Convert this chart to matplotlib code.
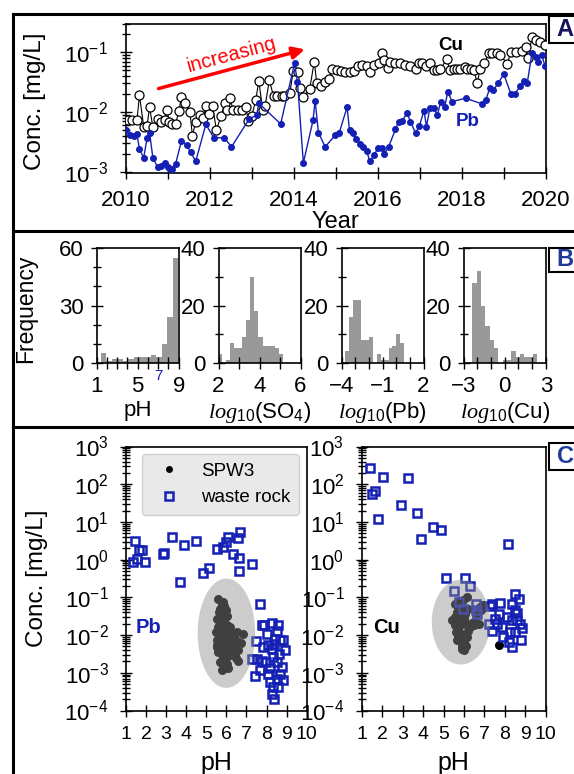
import numpy as np
import matplotlib
matplotlib.use('Agg')
import matplotlib.pyplot as plt
from matplotlib.patches import Rectangle
from matplotlib.lines import Line2D
import matplotlib.ticker as mticker

plt.rcParams['font.family'] = ['Liberation Sans', 'DejaVu Sans']
plt.rcParams['mathtext.fontset'] = 'custom'
plt.rcParams['mathtext.rm'] = 'Liberation Sans'
plt.rcParams['mathtext.it'] = 'Liberation Serif:italic'
plt.rcParams['mathtext.bf'] = 'Liberation Sans:bold'
plt.rcParams['axes.unicode_minus'] = True

# ---------------- data: panel A (time series) ----------------
cu_year = [2010.06, 2010.16, 2010.27, 2010.33, 2010.43, 2010.51, 2010.57, 2010.65, 2010.77, 2010.85,
           2010.93, 2010.99, 2011.03, 2011.11, 2011.19, 2011.27, 2011.33, 2011.41, 2011.53, 2011.59,
           2011.67, 2011.77, 2011.85, 2011.91, 2011.99, 2012.07, 2012.16, 2012.27, 2012.36, 2012.42,
           2012.48, 2012.56, 2012.68, 2012.76, 2012.86, 2012.92, 2013.00, 2013.10, 2013.17, 2013.26,
           2013.32, 2013.42, 2013.52, 2013.61, 2013.72, 2013.78, 2013.91, 2013.99, 2014.11, 2014.15,
           2014.23, 2014.38, 2014.49, 2014.55, 2014.65, 2014.75, 2014.85, 2014.91, 2015.03, 2015.12,
           2015.23, 2015.33, 2015.43, 2015.52, 2015.62, 2015.74, 2015.82, 2015.90, 2016.02, 2016.09,
           2016.14, 2016.24, 2016.30, 2016.42, 2016.54, 2016.66, 2016.78, 2016.90, 2016.98, 2017.06,
           2017.16, 2017.24, 2017.34, 2017.42, 2017.49, 2017.64, 2017.72, 2017.81, 2017.89, 2017.97,
           2018.07, 2018.13, 2018.23, 2018.29, 2018.37, 2018.43, 2018.53, 2018.65, 2018.73, 2018.83,
           2018.92, 2019.08, 2019.17, 2019.30, 2019.43, 2019.52, 2019.58, 2019.67, 2019.76, 2019.87, 2019.98]
cu_conc = [0.0073, 0.0073, 0.0073, 0.019, 0.0057, 0.0058, 0.012, 0.0055, 0.0075, 0.0069,
           0.0073, 0.011, 0.0069, 0.0063, 0.0063, 0.0105, 0.018, 0.014, 0.010, 0.0040,
           0.0069, 0.0089, 0.0078, 0.0126, 0.0092, 0.0126, 0.0050, 0.0084, 0.0143, 0.011,
           0.017, 0.011, 0.011, 0.011, 0.0123, 0.0070, 0.0084, 0.016, 0.0335, 0.011,
           0.0126, 0.034, 0.0185, 0.0185, 0.0185, 0.0185, 0.021, 0.049, 0.047, 0.025,
           0.018, 0.024, 0.070, 0.030, 0.027, 0.032, 0.035, 0.052, 0.050, 0.049,
           0.047, 0.047, 0.049, 0.059, 0.061, 0.059, 0.046, 0.061, 0.065, 0.096,
           0.074, 0.054, 0.070, 0.065, 0.065, 0.061, 0.059, 0.052, 0.067, 0.065,
           0.059, 0.065, 0.050, 0.050, 0.052, 0.076, 0.050, 0.052, 0.052, 0.052,
           0.057, 0.052, 0.052, 0.050, 0.030, 0.052, 0.065, 0.096, 0.096, 0.096,
           0.090, 0.064, 0.10, 0.10, 0.107, 0.124, 0.079, 0.178, 0.16, 0.15, 0.13]
pb_year = [2010.02, 2010.11, 2010.19, 2010.27, 2010.33, 2010.43, 2010.51, 2010.57, 2010.65, 2010.76,
           2010.85, 2010.93, 2011.01, 2011.05, 2011.11, 2011.19, 2011.33, 2011.45, 2011.55, 2011.67,
           2011.91, 2012.10, 2012.35, 2012.52, 2012.94, 2013.12, 2013.17, 2013.69, 2014.02, 2014.09,
           2014.23, 2014.46, 2014.51, 2014.59, 2014.75, 2014.99, 2015.08, 2015.27, 2015.33, 2015.41,
           2015.49, 2015.59, 2015.65, 2015.74, 2015.81, 2015.92, 2016.00, 2016.09, 2016.16, 2016.26,
           2016.42, 2016.50, 2016.58, 2016.70, 2016.78, 2016.90, 2016.99, 2017.10, 2017.16, 2017.24,
           2017.34, 2017.42, 2017.50, 2017.59, 2017.67, 2017.77, 2018.09, 2018.49, 2018.57, 2018.67,
           2018.75, 2018.86, 2019.00, 2019.17, 2019.26, 2019.39, 2019.48, 2019.56, 2019.67, 2019.76,
           2019.81, 2019.90, 2019.98]
pb_conc = [0.0050, 0.0041, 0.0039, 0.0042, 0.0024, 0.0017, 0.0036, 0.0045, 0.0017, 0.0012,
           0.00126, 0.00138, 0.0012, 0.0011, 0.00113, 0.00135, 0.0033, 0.0028, 0.0021, 0.0015,
           0.0062, 0.0037, 0.0037, 0.0026, 0.0076, 0.0089, 0.014, 0.0063, 0.065, 0.032,
           0.0014, 0.0072, 0.0155, 0.0045, 0.0026, 0.0041, 0.0044, 0.012, 0.0049, 0.0044,
           0.0035, 0.0029, 0.0026, 0.0022, 0.0015, 0.0019, 0.0025, 0.0025, 0.0020, 0.0026,
           0.0051, 0.0069, 0.0071, 0.0095, 0.0069, 0.0044, 0.0058, 0.0105, 0.0057, 0.0115,
           0.0115, 0.0089, 0.0149, 0.012, 0.0218, 0.0149, 0.017, 0.0136, 0.016, 0.025,
           0.023, 0.030, 0.043, 0.020, 0.020, 0.027, 0.033, 0.031, 0.096, 0.082,
           0.070, 0.090, 0.060]

# ---------------- data: panel B (histograms) ----------------
ph_bin_start, ph_bin_width = 1.4, 0.54
ph_counts = [5, 1, 2, 2, 1, 2, 3, 3, 3, 4, 3, 10, 24, 55]
so4_bin_start, so4_bin_width = 1.95, 0.2
so4_counts = [3, 0, 1, 7, 5, 5, 9, 15, 30, 18, 9, 6, 6, 6, 5, 3]
pbh_bin_start, pbh_bin_width = -3.75, 0.29
pbh_counts = [4, 16, 22, 22, 8, 8, 9, 0, 3, 1, 1, 5, 6, 10, 7]
cuh_bin_start, cuh_bin_width = -2.38, 0.317
cuh_counts = [28, 32, 20, 13, 8, 5, 0, 1, 1, 4, 2, 3, 2, 2, 3]

# ---------------- data: panel C (pH vs conc) ----------------
wr_pb_ph = [1.45, 1.66, 1.80, 1.37, 1.56, 1.95, 2.83, 2.90, 3.28, 3.69, 3.89, 4.49, 4.85, 5.15, 5.55,
            5.82, 5.98, 6.10, 6.32, 6.60, 6.68, 6.65, 6.65, 7.30, 7.68,
            7.76, 7.88, 8.26, 8.59, 7.48, 8.01, 8.43, 8.84, 8.92, 8.09,
            8.26, 8.64, 7.26, 7.51, 7.76, 7.98, 8.34, 8.51, 8.76, 7.68,
            7.43, 8.09, 8.51, 8.84, 8.18, 8.34, 8.59, 8.38, 8.26, 7.84,
            8.38, 8.67, 8.51, 8.18, 8.67]
wr_pb = [3.2, 1.8, 1.8, 0.87, 1.07, 0.87, 1.45, 1.5, 4.0, 0.26, 2.5, 3.2, 0.43, 0.61, 1.9,
         2.2, 2.9, 4.0, 1.4, 3.8, 5.4, 1.1, 0.49, 0.76, 0.065,
         0.019, 0.019, 0.021, 0.019, 0.0069, 0.011, 0.0079, 0.0072, 0.0039, 0.0056,
         0.0044, 0.0031, 0.0023, 0.0023, 0.0021, 0.0019, 0.0026, 0.0019, 0.0014, 0.00115,
         0.00081, 0.00093, 0.00069, 0.00063, 0.00056, 0.00041, 0.00041, 0.00020, 0.00028, 0.0048,
         0.0059, 0.0072, 0.013, 0.0013, 0.00093]
spw_pb_ph = [5.60, 5.85, 5.77, 5.98, 6.02, 5.68, 5.85, 5.60, 5.93, 5.68,
             6.02, 6.40, 6.81, 5.52, 5.77, 6.10, 6.35, 6.60, 5.60, 5.85,
             6.18, 6.60, 5.68, 5.93, 5.77, 6.10, 6.02, 6.10, 5.52, 6.18,
             5.70, 5.90, 5.75, 5.95, 5.80, 6.25, 6.45, 5.65, 6.00,
             5.55, 5.75, 5.90, 5.50, 5.65, 6.15, 6.30, 6.55, 6.75, 6.55,
             5.55, 6.20, 5.90, 6.05, 5.85, 6.45, 6.50]
spw_pb = [0.092, 0.076, 0.064, 0.045, 0.033, 0.030, 0.022, 0.016, 0.014, 0.011,
          0.0089, 0.011, 0.011, 0.0072, 0.0054, 0.0048, 0.0059, 0.0039, 0.0035, 0.0026,
          0.0029, 0.0021, 0.0019, 0.0014, 0.00115, 0.0013, 0.018, 0.0072, 0.0048, 0.016,
          0.050, 0.028, 0.0085, 0.0035, 0.0018, 0.0065, 0.0075, 0.040, 0.0025,
          0.026, 0.036, 0.060, 0.012, 0.0095, 0.0105, 0.0085, 0.0068, 0.0062, 0.012,
          0.0055, 0.0040, 0.0042, 0.0017, 0.0023, 0.0031, 0.0024]
wr_cu_ph = [1.41, 2.06, 3.28, 1.65, 1.52, 2.92, 3.69, 1.82, 4.47, 4.87,
            3.90, 8.15, 5.11, 6.06, 6.30, 5.53, 5.78, 5.94, 6.58, 6.58,
            6.63, 7.28, 7.39, 7.77, 8.50, 8.67, 8.34, 7.20, 7.36, 7.69,
            7.61, 7.85, 8.10, 8.50, 8.34, 8.75, 8.83, 8.59, 7.93, 8.18,
            8.34, 8.50, 8.78, 8.26, 7.53, 8.59]
wr_cu = [270, 155, 147, 66, 54, 28, 17, 12, 7.4, 6.0,
         3.6, 2.6, 0.32, 0.33, 0.20, 0.15, 0.076, 0.050, 0.068, 0.045,
         0.036, 0.059, 0.068, 0.071, 0.12, 0.092, 0.068, 0.020, 0.013, 0.037,
         0.020, 0.016, 0.030, 0.045, 0.025, 0.020, 0.015, 0.025, 0.0089, 0.0065,
         0.0048, 0.012, 0.0072, 0.012, 0.027, 0.038]
spw_cu_ph = [6.14, 5.57, 5.86, 5.65, 6.06, 5.57, 5.40, 5.81, 6.06, 6.38,
             6.71, 6.95, 6.79, 5.73, 5.89, 6.30, 5.65, 5.98, 5.89, 5.98,
             6.14, 5.57, 7.72, 5.75, 5.95, 6.20, 5.70, 6.10, 6.55,
             5.95, 6.20, 5.75, 6.00, 6.50, 6.85, 6.60, 5.80, 5.60, 5.85, 6.05, 5.90]
spw_cu = [0.10, 0.068, 0.055, 0.041, 0.037, 0.030, 0.025, 0.022, 0.020, 0.021,
          0.020, 0.061, 0.055, 0.015, 0.011, 0.016, 0.0072, 0.0065, 0.0044, 0.0040,
          0.0089, 0.018, 0.0056, 0.080, 0.028, 0.013, 0.0095, 0.0052, 0.024,
          0.085, 0.048, 0.033, 0.026, 0.018, 0.045, 0.035, 0.019, 0.012, 0.0085, 0.0055, 0.0050]
# ellipse (pH centre, log10 centre, pH width, log10 height)
ell_pb = (6.0, -1.95, 2.86, 2.9)
ell_cu = (5.85, -1.655, 2.85, 2.25)

BLUE = '#1420b4'
W, H = 574, 774
fig = plt.figure(figsize=(W / 100, H / 100), dpi=100)


def ax_px(x0, y0, x1, y1):
    return fig.add_axes([x0 / W, 1 - y1 / H, (x1 - x0) / W, (y1 - y0) / H])


def style(ax, fs=15, pad=6):
    ax.tick_params(which='both', direction='inout', labelsize=fs, pad=pad, width=1)
    ax.tick_params(which='major', length=9)
    ax.tick_params(which='minor', length=6)
    for s in ax.spines.values():
        s.set_linewidth(1.2)


# ---------------- Panel A ----------------
axA = ax_px(125.6, 23.8, 545.8, 173)
axA.plot(cu_year, cu_conc, '-o', color='black', lw=0.8, ms=6.5, mfc='white', mec='black', mew=0.9, zorder=3)
axA.plot(pb_year, pb_conc, '-o', color=BLUE, lw=1.0, ms=4, mfc=BLUE, mec=BLUE, zorder=4)
axA.set_yscale('log')
axA.set_xlim(2010, 2020)
axA.set_ylim(9.5e-4, 0.3)
axA.xaxis.set_major_locator(mticker.MultipleLocator(2))
axA.xaxis.set_minor_locator(mticker.MultipleLocator(1))
axA.yaxis.set_major_locator(mticker.LogLocator(base=10, numticks=10))
axA.yaxis.set_minor_locator(mticker.LogLocator(base=10, subs=np.arange(2, 10), numticks=10))
axA.yaxis.set_minor_formatter(mticker.NullFormatter())
style(axA, fs=16, pad=8)
axA.tick_params(axis='x', which='minor', length=9)
axA.set_xlabel('Year', fontsize=17)
axA.xaxis.set_label_coords(0.5, -0.255)
axA.set_ylabel('Conc. [mg/L]', fontsize=17.5)
axA.yaxis.set_label_coords(-0.19, 0.48)
axA.annotate('', xy=(2014.33, 0.115), xytext=(2010.72, 0.024),
             arrowprops=dict(arrowstyle='-|>', color='red', lw=2.5, mutation_scale=18), zorder=6)
axA.text(2012.52, 0.09, 'increasing', color='red', fontsize=14.5, rotation=15,
         rotation_mode='anchor', ha='center', va='center', zorder=6)
axA.text(2017.73, 0.128, 'Cu', color='black', fontsize=13.5, fontweight='bold', ha='center', va='center')
axA.text(2018.13, 0.0069, 'Pb', color=BLUE, fontsize=13.5, fontweight='bold', ha='center', va='center')

# ---------------- Panel B ----------------
hist_specs = [
    (96.7, ph_bin_start, ph_bin_width, ph_counts, (1, 9), [1, 5, 9], (0, 60), [0, 30, 60], 10, 'pH'),
    (218.5, so4_bin_start, so4_bin_width, so4_counts, (2, 6), [2, 4, 6], (0, 40), [0, 20, 40], 10,
     r'$\mathit{log}_{\mathit{10}}$(SO$_4$)'),
    (341.5, pbh_bin_start, pbh_bin_width, pbh_counts, (-4, 2), [-4, -1, 2], (0, 40), [0, 20, 40], 10,
     r'$\mathit{log}_{\mathit{10}}$(Pb)'),
    (463.8, cuh_bin_start, cuh_bin_width, cuh_counts, (-3, 3), [-3, 0, 3], (0, 40), [0, 20, 40], 10,
     r'$\mathit{log}_{\mathit{10}}$(Cu)'),
]
hist_axes = []
for (x0, start, width, counts, xl, xt, yl, yt, ymin, lab) in hist_specs:
    ax = ax_px(x0, 248.3, x0 + 82, 362.7)
    edges = start + width * np.arange(len(counts))
    ax.bar(edges, counts, width=width, align='edge', color='#999999', linewidth=0)
    ax.set_xlim(*xl)
    ax.set_ylim(*yl)
    ax.set_xticks(xt)
    ax.xaxis.set_minor_locator(mticker.MultipleLocator(1))
    ax.set_yticks(yt)
    ax.yaxis.set_minor_locator(mticker.MultipleLocator(ymin))
    style(ax, fs=16, pad=5)
    ax.tick_params(axis='x', which='minor', length=9)
    ax.set_xlabel(lab, fontsize=16)
    ax.xaxis.set_label_coords(0.5, -0.33)
    hist_axes.append(ax)
hist_axes[0].set_ylabel('Frequency', fontsize=16.5)
hist_axes[0].yaxis.set_label_coords(-0.73, 0.47)
hist_axes[0].text(7, -0.12, '7', color=BLUE, fontsize=11, ha='center', va='center',
                  transform=hist_axes[0].get_xaxis_transform())

# ---------------- Panel C ----------------
def scatter_panel(ax, wr_x, wr_y, sp_x, sp_y, ell, label, lcolor):
    h1, = ax.plot(sp_x, sp_y, 'o', color='black', ms=6.5, mew=0, zorder=3, label='SPW3')
    h2, = ax.plot(wr_x, wr_y, 's', mfc='none', mec=BLUE, mew=1.8, ms=6.3, zorder=3, label='waste rock')
    t = np.linspace(0, 2 * np.pi, 200)
    ex = ell[0] + ell[2] / 2 * np.cos(t)
    ey = 10 ** (ell[1] + ell[3] / 2 * np.sin(t))
    ax.fill(ex, ey, color='#8f8f8f', alpha=0.45, lw=0, zorder=4)
    ax.set_yscale('log')
    ax.set_xlim(1, 10)
    ax.set_ylim(1e-4, 1e3)
    ax.set_xticks(range(1, 11))
    ax.yaxis.set_major_locator(mticker.LogLocator(base=10, numticks=20))
    ax.yaxis.set_minor_locator(mticker.LogLocator(base=10, subs=np.arange(2, 10), numticks=20))
    ax.yaxis.set_minor_formatter(mticker.NullFormatter())
    style(ax, fs=16, pad=5)
    ax.tick_params(axis='x', which='major', labelsize=14, pad=6.5)
    ax.tick_params(axis='y', which='major', pad=8)
    ax.set_xlabel('pH', fontsize=18)
    ax.xaxis.set_label_coords(0.5, -0.155)
    ax.text(2.1 if label == 'Pb' else 2.22, 0.016, label, color=lcolor, fontsize=14.5,
            fontweight='bold', ha='center', va='center')
    return h1, h2


axC1 = ax_px(126, 446.5, 306.7, 710.5)
h1, h2 = scatter_panel(axC1, wr_pb_ph, wr_pb, spw_pb_ph, spw_pb, ell_pb, 'Pb', BLUE)
axC1.set_ylabel('Conc. [mg/L]', fontsize=17.5)
axC1.yaxis.set_label_coords(-0.43, 0.5)
leg = axC1.legend([h1, h2], ['SPW3', 'waste rock'], loc='upper right', bbox_to_anchor=(0.955, 0.97),
                  borderaxespad=0, fontsize=13.5, handlelength=2.0, handletextpad=0.7,
                  facecolor='#e9e9e9', edgecolor='#cfcfcf', framealpha=1, fancybox=True,
                  borderpad=0.45, labelspacing=0.5)
leg.set_zorder(10)
leg.legend_handles[0].set_markersize(5)

axC2 = ax_px(361.7, 446.5, 545.8, 710.5)
scatter_panel(axC2, wr_cu_ph, wr_cu, spw_cu_ph, spw_cu, ell_cu, 'Cu', 'black')

# ---------------- frame lines & panel letters ----------------
for (xs, ys) in [((13, 13), (14, 774)), ((13, 574), (14, 14)), ((13, 574), (231, 231)),
                 ((13, 574), (427, 427))]:
    fig.add_artist(Line2D([x / W for x in xs], [1 - y / H for y in ys], transform=fig.transFigure,
                          color='black', lw=2.2, solid_capstyle='projecting'))

for letter, y0, y1, col in [('A', 16, 43, '#14145a'), ('B', 248, 272, '#1f3a9a'), ('C', 443, 470, '#1f3a9a')]:
    fig.add_artist(Rectangle((549 / W, 1 - y1 / H), 40 / W, (y1 - y0) / H, transform=fig.transFigure,
                             facecolor='white', edgecolor='black', lw=1.5))
    fig.text(565 / W, 1 - (y0 + y1) / 2 / H, letter, color=col, fontsize=17, fontweight='bold',
             ha='center', va='center')

fig.savefig('out.png', dpi=100)
